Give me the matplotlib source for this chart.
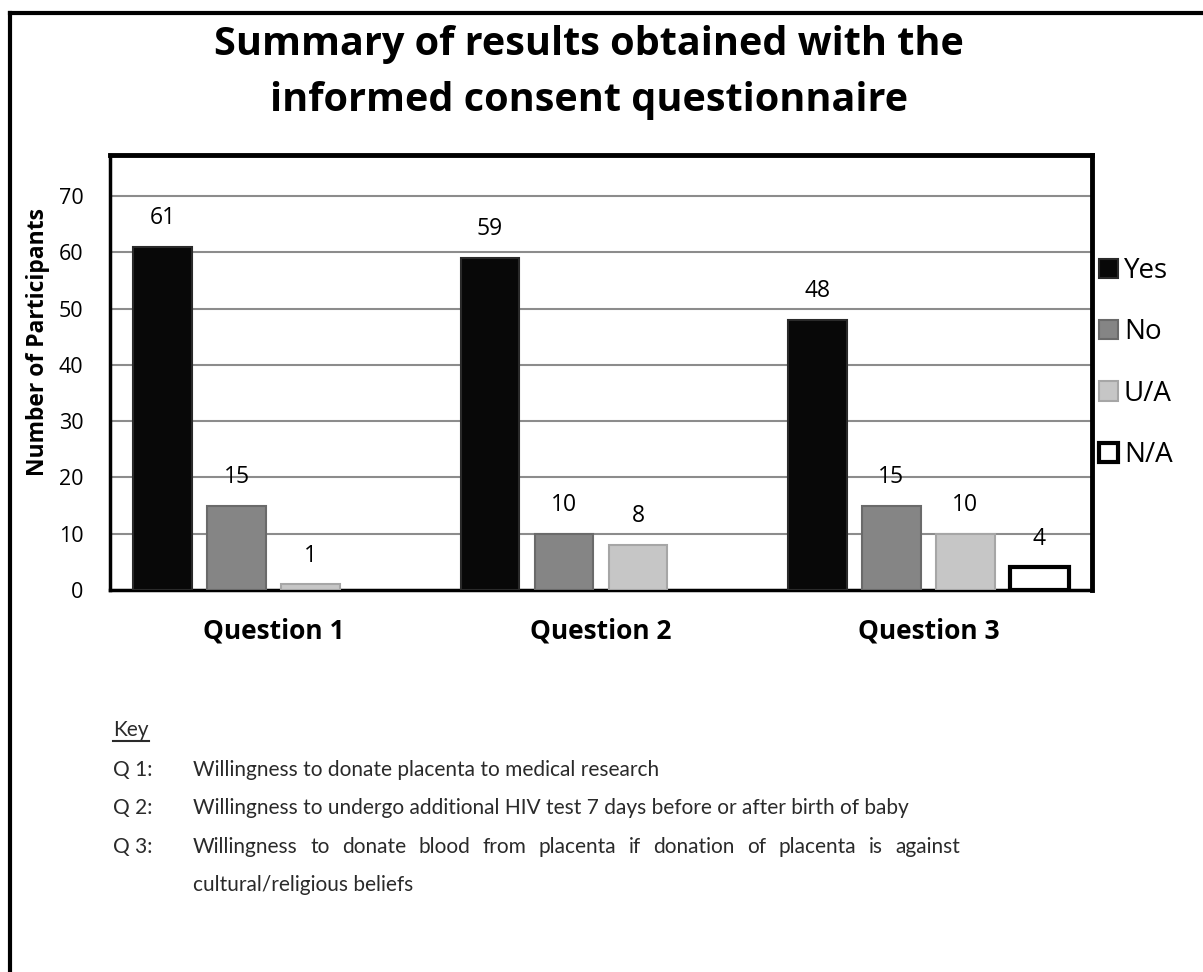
import numpy as np
import matplotlib
matplotlib.use('Agg')
import matplotlib.pyplot as plt
from matplotlib import font_manager
from matplotlib.lines import Line2D

questions = ['Question 1', 'Question 2', 'Question 3']
series = ['Yes', 'No', 'U/A', 'N/A']
yes = [61, 59, 48]
no = [15, 10, 15]
ua = [1, 8, 10]
na = [0, 0, 4]
values = [yes, no, ua, na]

key_rows = [('Q 1:', 'Willingness to donate placenta to medical research'),
            ('Q 2:', 'Willingness to undergo additional HIV test 7 days before or after birth of baby'),
            ('Q 3:', 'Willingness to donate blood from placenta if donation of placenta is against')]
key_last = 'cultural/religious beliefs'

fills = ['#080808', '#858585', '#c6c6c6', 'white']
edges = ['#2a2a2a', '#6a6a6a', '#a6a6a6', 'black']
lws = [1.5, 1.5, 1.5, 3]

names = {f.name for f in font_manager.fontManager.ttflist}
main_font = 'Open Sans' if 'Open Sans' in names else 'DejaVu Sans'
narrow_font = 'Lato' if 'Lato' in names else main_font
plt.rcParams['font.family'] = main_font

W, H = 1203, 972
fig = plt.figure(figsize=(W / 100, H / 100), dpi=100)
ax = fig.add_axes([110 / W, 1 - 590 / H, (1092 - 110) / W, (590 - 155) / H])

x = np.arange(len(questions))
step = 0.226
bw = 0.18
bars = []
for i, (name, vals) in enumerate(zip(series, values)):
    pos = x + (i - 1.5) * step
    keep = [j for j, v in enumerate(vals) if v > 0]
    b = ax.bar(pos[keep], [vals[j] for j in keep], bw, color=fills[i], edgecolor=edges[i],
               linewidth=lws[i], label=name, zorder=3)
    bars.append(b)
    for j in keep:
        ax.annotate(str(vals[j]), (pos[j], vals[j]), xytext=(0, 12), textcoords='offset points',
                    ha='center', va='bottom', fontsize=16.5)

ax.set_xlim(-0.5, 2.5)
ax.set_ylim(0, 77.3)
ax.set_yticks(range(0, 71, 10))
ax.yaxis.grid(True, color='#8c8c8c', linewidth=1.5, zorder=0)
ax.set_axisbelow(True)
ax.set_xticks(x)
ax.set_xticklabels(questions, fontsize=19, fontweight='bold')
ax.tick_params(axis='x', length=0, pad=20)
ax.tick_params(axis='y', length=0, pad=19, labelsize=15.5)
for s in ['left', 'bottom']:
    ax.spines[s].set_linewidth(2.5)
for s in ['top', 'right']:
    ax.spines[s].set_linewidth(3.5)

fig.text(589 / W, 1 - 45 / H, 'Summary of results obtained with the', ha='center', va='center',
         fontsize=28.5, fontweight='bold')
fig.text(589 / W, 1 - 100 / H, 'informed consent questionnaire', ha='center', va='center',
         fontsize=28.5, fontweight='bold')
fig.text(38 / W, 1 - 342 / H, 'Number of Participants', rotation=90, ha='center', va='center',
         fontsize=16.5, fontweight='bold')

fig.legend(handles=bars, labels=series, loc='upper left', bbox_to_anchor=(1099 / W, 1 - 257 / H),
           frameon=False, fontsize=20, handlelength=0.7, handleheight=0.7, handletextpad=0.2,
           labelspacing=1.2, borderpad=0, borderaxespad=0)

# key below the chart
kc = '#2a2a2a'
kfs = 15
key = fig.text(113 / W, 1 - 730 / H, 'Key', ha='left', va='center', fontsize=kfs, color=kc,
               family=narrow_font)
renderer = fig.canvas.get_renderer()
bb = key.get_window_extent(renderer)
fig.add_artist(Line2D([bb.x0 / W, bb.x1 / W], [(bb.y0 - 1) / H, (bb.y0 - 1) / H],
                      color=kc, linewidth=1.5))
rows_y = [770, 808, 847]
for (q, desc), yy in zip(key_rows, rows_y):
    fig.text(113 / W, 1 - yy / H, q, ha='left', va='center', fontsize=kfs, color=kc,
             family=narrow_font)
    if q != 'Q 3:':
        fig.text(193 / W, 1 - yy / H, desc, ha='left', va='center', fontsize=kfs, color=kc,
                 family=narrow_font)
    else:
        # justified line
        words = desc.split()
        ts = [fig.text(0, 1 - yy / H, w, ha='left', va='center', fontsize=kfs, color=kc,
                       family=narrow_font) for w in words]
        widths = [t.get_window_extent(renderer).width for t in ts]
        gap = (960 - 193 - sum(widths)) / (len(words) - 1)
        xx = 193
        for t, w in zip(ts, widths):
            t.set_x(xx / W)
            xx += w + gap
fig.text(193 / W, 1 - 885 / H, key_last, ha='left', va='center', fontsize=kfs, color=kc,
         family=narrow_font)

# outer frame
fig.add_artist(Line2D([10 / W, 1.0], [1 - 13 / H, 1 - 13 / H], color='black', linewidth=3))
fig.add_artist(Line2D([10 / W, 10 / W], [0, 1 - 13 / H], color='black', linewidth=3))

fig.savefig('out.png', dpi=100)
